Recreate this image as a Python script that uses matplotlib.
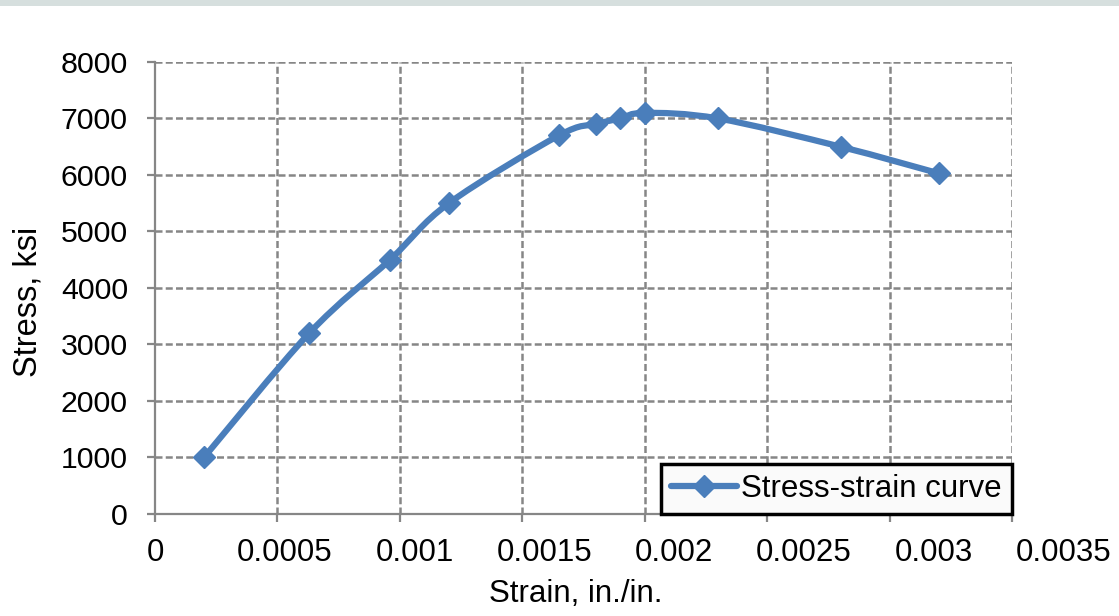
import numpy as np
import matplotlib.pyplot as plt
from matplotlib.path import Path
from matplotlib.patches import PathPatch, Rectangle
from matplotlib.lines import Line2D
from matplotlib.transforms import ScaledTranslation

# Datos
strain = [0.0002, 0.00063, 0.00096, 0.0012, 0.00165, 0.0018, 0.0019, 0.002, 0.0023, 0.0028, 0.0032]
stress = [1000, 3200, 4500, 5500, 6700, 6900, 7000, 7100, 7000, 6500, 6030]
xticks = [0, 0.0005, 0.001, 0.0015, 0.002, 0.0025, 0.003, 0.0035]
xtick_labels = ["0", "0.0005", "0.001", "0.0015", "0.002", "0.0025", "0.003", "0.0035"]
yticks = [0, 1000, 2000, 3000, 4000, 5000, 6000, 7000, 8000]

azul = "#4a7ebb"
gris = "#868686"

plt.rcParams['font.family'] = ['Liberation Sans', 'DejaVu Sans']
plt.rcParams['font.size'] = 22.5

fig = plt.figure(figsize=(11.19, 6.16), dpi=100)
fig.patches.append(Rectangle((0, 1 - 6 / 616), 1, 6 / 616, transform=fig.transFigure,
                             facecolor="#d6dfde", edgecolor="none"))
ax = fig.add_axes([0.1385, 0.1656, 0.7659, 0.7338])

# curva suavizada (Bezier tipo Catmull-Rom, como Excel)
p = np.column_stack([strain, stress]).astype(float)
verts = [p[0]]
codes = [Path.MOVETO]
n = len(p)
for i in range(n - 1):
    p0 = p[i - 1] if i > 0 else p[i]
    p3 = p[i + 2] if i + 2 < n else p[i + 1]
    c1 = p[i] + (p[i + 1] - p0) / 6
    c2 = p[i + 1] - (p3 - p[i]) / 6
    verts += [c1, c2, p[i + 1]]
    codes += [Path.CURVE4] * 3
ax.add_patch(PathPatch(Path(verts, codes), facecolor="none", edgecolor=azul,
                       lw=4.5, capstyle="round", joinstyle="round", zorder=3))
ax.plot(strain, stress, "D", color=azul, markersize=11.5, zorder=4)

ax.set_xlim(0, 0.0035)
ax.set_ylim(0, 8000)
ax.set_xticks(xticks)
ax.set_xticklabels(xtick_labels)
ax.set_yticks(yticks)

ax.grid(True, color=gris, linestyle=(0, (2.8, 1.3)), linewidth=1.8)
ax.set_axisbelow(True)
# sin rejilla sobre los ejes en cero
ax.xaxis.get_gridlines()[0].set_visible(False)
ax.yaxis.get_gridlines()[0].set_visible(False)
for s in ["top", "right"]:
    ax.spines[s].set_visible(False)
for s in ["left", "bottom"]:
    ax.spines[s].set_color(gris)
    ax.spines[s].set_linewidth(1.6)
ax.tick_params(direction="out", length=6, width=1.6, color=gris)
ax.tick_params(axis="x", pad=11)
ax.tick_params(axis="y", pad=13.5, labelsize=21.8)

# en el original las etiquetas del eje x se separan un poco mas que las marcas
for i, lab in enumerate(ax.get_xticklabels()):
    lab.set_transform(lab.get_transform() + ScaledTranslation(i * 0.073, 0, fig.dpi_scale_trans))

ax.set_xlabel("Strain, in./in.", labelpad=8.5)
ax.xaxis.label.set_x(0.491)
ax.set_ylabel("Stress, ksi", labelpad=12, fontsize=23.5)
ax.yaxis.label.set_y(0.469)

handle = Line2D([], [], color=azul, lw=4.5, marker="D", markersize=11.5, solid_capstyle="round")
leg = ax.legend([handle], ["Stress-strain curve"], loc="lower right", borderaxespad=0,
                fancybox=False, handlelength=2.1, handletextpad=0.15, borderpad=0.32,
                framealpha=1)
leg.get_frame().set_edgecolor("black")
leg.get_frame().set_linewidth(2.5)
leg.get_frame().set_facecolor("#fafafa")

fig.savefig("out.png", dpi=100)
